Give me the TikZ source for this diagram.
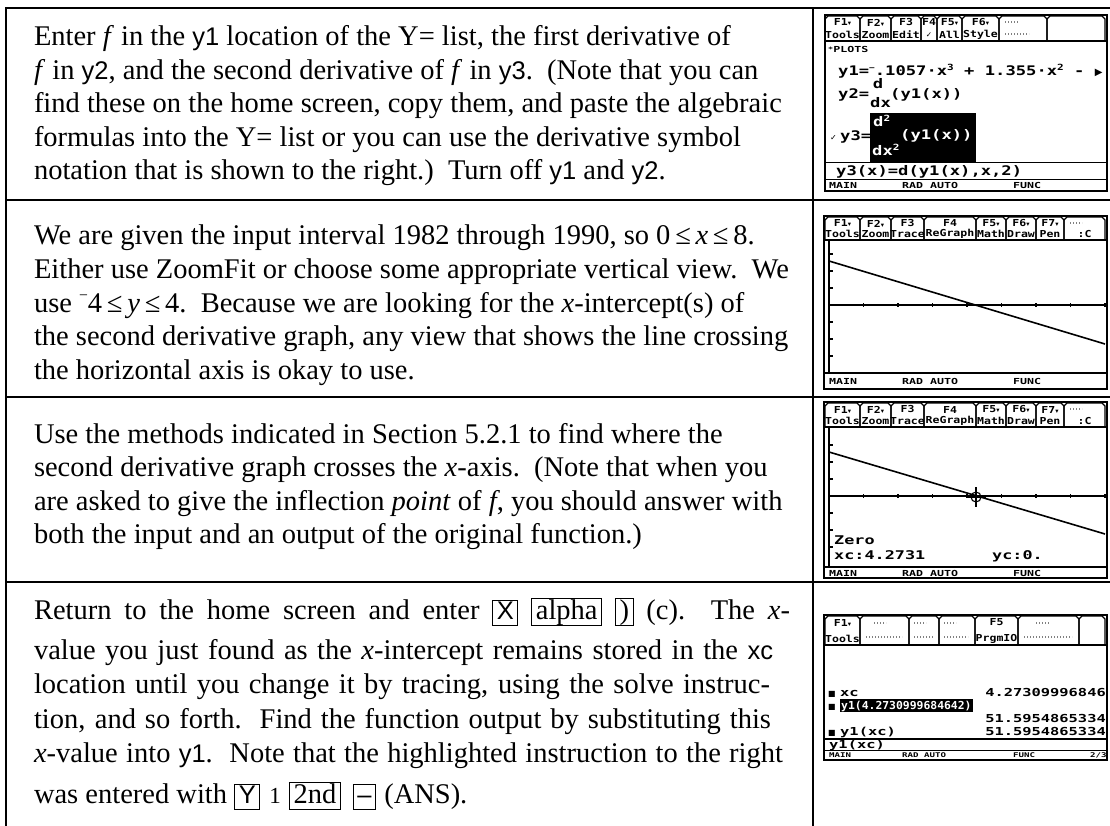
\documentclass[tikz,border=0pt]{standalone}
\usepackage{fontspec}
\setmainfont{Liberation Serif}
\newfontfamily\sfy{Liberation Sans}
\newfontfamily\calcf[FakeStretch=1.3]{DejaVu Sans Mono}
\newfontfamily\calcg[FakeStretch=1.4]{DejaVu Sans Mono}
\newfontfamily\calct[FakeStretch=1.2]{DejaVu Sans Mono}
\newfontfamily\symf{DejaVu Sans}
\newcommand\sy[1]{{\sfy\fontsize{25.5}{30}\selectfont #1}}
\newcommand\keybox[1]{{\setlength\fboxsep{0pt}\setlength\fboxrule{1.1pt}\fbox{\hspace{3.5pt}\rule[-0.2em]{0pt}{0.84em}#1\hspace{3.5pt}}}}
\newcommand\negsup{\raisebox{0.42em}{\scalebox{0.55}{−}}}
\newcommand\dn{{\symf\fontsize{6.5}{6.5}\selectfont ▾}}
\newcommand\csup[1]{\raisebox{0.45em}{\fontsize{8.5}{8.5}\selectfont #1}}
\newcommand\cN{\calcf\bfseries\fontsize{13.2}{14}\selectfont}
\newcommand\cM{\calcg\bfseries\fontsize{12}{13}\selectfont}
\newcommand\cH{\calcg\bfseries\fontsize{11}{12}\selectfont}
\newcommand\cS{\calcg\bfseries\fontsize{8.3}{9}\selectfont}
\newcommand\cT{\calct\bfseries\fontsize{9.6}{10}\selectfont}
\newcommand\tabc[6]{%
  \draw[tabl] (#1,#4) -- (#1,#3+3) -- (#1+3,#3) -- (#2-3,#3) -- (#2,#3+3) -- (#2,#4);
  \node[tabt] (tab-#1-#3-a) at ({(#1+#2)/2},#3+6.5) {#5};
  \node[tabt] (tab-#1-#3-b) at ({(#1+#2)/2},#4-6) {#6};
}
\newcommand\garb[3]{\draw[garb] (#1,#2) -- ++(#3,0);}
\usetikzlibrary{calc}
\begin{document}
\begin{tikzpicture}[x=1pt,y=-1pt,
  grid/.style={line width=2.3pt, line cap=rect},
  txt/.style={anchor=base west, inner sep=0pt, outer sep=0pt, font=\fontsize{28.5}{33}\selectfont},
  scr/.style={line width=1.6pt},
  tabl/.style={line width=1.2pt},
  tabt/.style={inner sep=0pt, font=\cT},
  ct/.style={anchor=base west, inner sep=0pt},
  cr/.style={anchor=base east, inner sep=0pt},
  sepl/.style={line width=1.3pt},
  garb/.style={gray, line width=1.4pt, dash pattern=on 1.4pt off 1.6pt},
  axisl/.style={line width=1.1pt},
  graphl/.style={line width=1.6pt}]
\useasboundingbox (0,0) rectangle (1110,826);
\fill[white] (0,0) rectangle (1110,826);
% table
\draw[grid] (6,826) -- (6,8) -- (1110,8);
\draw[grid] (813,8) -- (813,826);
\foreach \y in {200,397,582} \draw[grid] (6,\y) -- (1110,\y);
% row 1 text
\node[txt] (r1a) at (34,46) {Enter \textit{f} in the \sy{y1} location of the Y= list, the first derivative of};
\node[txt] (r1b) at (34,79.5) {\textit{f} in \sy{y2}, and the second derivative of \textit{f} in \sy{y3}.\ \ (Note that you can};
\node[txt] (r1c) at (34,113) {find these on the home screen, copy them, and paste the algebraic};
\node[txt] (r1d) at (34,146.5) {formulas into the Y= list or you can use the derivative symbol};
\node[txt] (r1e) at (34,180) {notation that is shown to the right.)\ \ Turn off \sy{y1} and \sy{y2}.};
% row 2 text
\node[txt] (r2a) at (34,245) {We are given the input interval 1982 through 1990, so 0\,≤\,\textit{x}\,≤\,8.};
\node[txt] (r2b) at (34,278.5) {Either use ZoomFit or choose some appropriate vertical view.\ \ We};
\node[txt] (r2c) at (34,312) {use \negsup4\,≤\,\textit{y}\,≤\,4.\ \ Because we are looking for the \textit{x}-intercept(s) of};
\node[txt] (r2d) at (34,345.5) {the second derivative graph, any view that shows the line crossing};
\node[txt] (r2e) at (34,379) {the horizontal axis is okay to use.};
% row 3 text
\node[txt] (r3a) at (34,443) {Use the methods indicated in Section 5.2.1 to find where the};
\node[txt] (r3b) at (34,476.5) {second derivative graph crosses the \textit{x}-axis.\ \ (Note that when you};
\node[txt] (r3c) at (34,510) {are asked to give the inflection \textit{point} of \textit{f}, you should answer with};
\node[txt] (r3d) at (34,543.5) {both the input and an output of the original function.)};
% row 4 text
\node[txt] (r4a) at (34,619) {\makebox[756pt][s]{Return to the home screen and enter \keybox{\sy{X}} \keybox{alpha} \keybox{)} (c).\ \ The \textit{x}-}};
\node[txt] (r4b) at (34,659) {\makebox[739pt][s]{value you just found as the \textit{x}-intercept remains stored in the \sy{xc}}};
\node[txt] (r4c) at (34,693.5) {\makebox[736pt][s]{location until you change it by tracing, using the solve instruc-}};
\node[txt] (r4d) at (34,728) {\makebox[737pt][s]{tion, and so forth.\ \ Find the function output by substituting this}};
\node[txt] (r4e) at (34,762.5) {\makebox[749pt][s]{\textit{x}-value into \sy{y1}.\ \ Note that the highlighted instruction to the right}};
\node[txt] (r4f) at (34,803) {was entered with \keybox{\sy{Y}}\hspace{9pt}{\fontsize{23}{26}\selectfont 1}\hspace{8pt}\keybox{2nd}\hspace{12pt}\keybox{\sy{–}}\hspace{8pt}(ANS).};

% ================= screen 1 (Y= editor)
\draw[scr] (825,15) rectangle (1107,191);
\tabc{825}{860}{16}{41}{F1\dn}{Tools}
\tabc{860}{891}{16}{41}{F2\dn}{Zoom}
\tabc{891}{921}{16}{41}{F3}{Edit}
\tabc{921}{937}{16}{41}{F4}{{\symf\fontsize{7.5}{7.5}\selectfont ✓}}
\tabc{937}{962}{16}{41}{F5\dn}{All}
\tabc{962}{999}{16}{41}{F6\dn}{Style}
\tabc{999}{1047}{16}{41}{}{}
\tabc{1047}{1105}{16}{41}{}{}
\garb{1005}{22}{14}\garb{1005}{34}{24}
\draw[sepl] (825,41) -- (1107,41);
\node[ct] (s1plots) at (828,53) {\cS\raisebox{1pt}{\fontsize{6}{6}\selectfont *}PLOTS};
\node[ct] (s1y1) at (838,76) {\cN y1=\negsup.1057·x\csup{3} + 1.355·x\csup{2} - {\symf\fontsize{10}{10}\selectfont ▶}};
\node[ct] (s1y2) at (838,99) {\cN y2=};
\node[inner sep=0pt] (s1d) at (878,84) {\cN d};
\node[ct] (s1dx) at (870,108) {\cN dx};
\node[ct] (s1y2b) at (890,99) {\cN (y1(x))};
\node[ct] (s1chk) at (830,141) {{\symf\fontsize{8}{8}\selectfont ✓}};
\node[ct] (s1y3) at (840,141) {\cN y3=};
\fill[black] (870,113) rectangle (976,162);
\node[ct, text=white] (s1d2) at (873,127) {\cN d\csup{2}};
\node[ct, text=white] (s1dx2) at (872,156) {\cN dx\csup{2}};
\node[ct, text=white] (s1y3b) at (900,140) {\cN (y1(x))};
\draw[sepl] (825,162.5) -- (1107,162.5);
\node[ct] (s1entry) at (836,176) {\cN y3(x)=d(y1(x),x,2)};
\draw[sepl] (825,179.5) -- (1107,179.5);
\node[ct] (s1st1) at (829,189) {\cS MAIN};
\node[ct] (s1st2) at (902,189) {\cS RAD AUTO};
\node[ct] (s1st3) at (1013,189) {\cS FUNC};

% ================= screen 2 (graph)
\draw[scr] (824,216) rectangle (1107,389);
\tabc{825}{860}{217}{240}{F1\dn}{Tools}
\tabc{860}{891}{217}{240}{F2\dn}{Zoom}
\tabc{891}{924}{217}{240}{F3}{Trace}
\tabc{924}{976}{217}{240}{F4}{ReGraph}
\tabc{976}{1006}{217}{240}{F5\dn}{Math}
\tabc{1006}{1036}{217}{240}{F6\dn}{Draw}
\tabc{1036}{1064}{217}{240}{F7\dn}{Pen}
\tabc{1064}{1105}{217}{240}{}{:C}
\garb{1070}{223}{12}
\draw[sepl] (824,240) -- (1107,240);
\draw[axisl] (829,240) -- (829,373);
\draw[axisl] (829,305) -- (1107,305);
\foreach \i in {1,...,8} \draw[axisl] ({829+34.5*\i},303) -- ++(0,4);
\foreach \j in {-3,-2,-1,1,2,3} \draw[axisl] (829,{305+17*\j}) -- ++(4,0);
\draw[graphl] (829,261) -- (1105,344);
\draw[sepl] (824,373) -- (1107,373);
\node[ct] (s2st1) at (829,384) {\cS MAIN};
\node[ct] (s2st2) at (902,384) {\cS RAD AUTO};
\node[ct] (s2st3) at (1013,384) {\cS FUNC};

% ================= screen 3 (graph with zero)
\draw[scr] (824,402) rectangle (1107,578);
\tabc{825}{860}{403}{427}{F1\dn}{Tools}
\tabc{860}{891}{403}{427}{F2\dn}{Zoom}
\tabc{891}{924}{403}{427}{F3}{Trace}
\tabc{924}{976}{403}{427}{F4}{ReGraph}
\tabc{976}{1006}{403}{427}{F5\dn}{Math}
\tabc{1006}{1036}{403}{427}{F6\dn}{Draw}
\tabc{1036}{1064}{403}{427}{F7\dn}{Pen}
\tabc{1064}{1105}{403}{427}{}{:C}
\garb{1070}{409}{12}
\draw[sepl] (824,427) -- (1107,427);
\draw[axisl] (829,427) -- (829,567);
\draw[axisl] (829,496) -- (1107,496);
\foreach \i in {1,...,8} \draw[axisl] ({829+34.5*\i},494) -- ++(0,4);
\foreach \j in {-3,-2,-1,1,2,3} \draw[axisl] (829,{496+17*\j}) -- ++(4,0);
\draw[graphl] (829,452) -- (1105,534);
\node[circle, draw, line width=1.1pt, minimum size=10pt, inner sep=0pt] (cur) at (976,497) {};
\draw[axisl] (976,487) -- (976,507);
\draw[axisl] (966,497) -- (986,497);
\node[ct] (s3zero) at (834,544) {\cM Zero};
\node[ct] (s3xc) at (834,559) {\cM xc:4.2731};
\node[ct] (s3yc) at (992,559) {\cM yc:0.};
\draw[sepl] (824,567) -- (1107,567);
\node[ct] (s3st1) at (829,576.5) {\cS MAIN};
\node[ct] (s3st2) at (902,576.5) {\cS RAD AUTO};
\node[ct] (s3st3) at (1013,576.5) {\cS FUNC};

% ================= screen 4 (home)
\draw[scr] (824,615) rectangle (1107,760);
\tabc{825}{860}{616}{645}{F1\dn}{Tools}
\tabc{860}{909}{616}{645}{}{}
\tabc{909}{939}{616}{645}{}{}
\tabc{939}{975}{616}{645}{}{}
\tabc{975}{1018}{616}{645}{F5}{PrgmIO}
\tabc{1018}{1079}{616}{645}{}{}
\tabc{1079}{1105}{616}{645}{}{}
\garb{874}{623}{12}\garb{866}{637}{36}
\garb{914}{623}{12}\garb{914}{637}{20}
\garb{944}{623}{12}\garb{944}{637}{24}
\garb{1036}{623}{14}\garb{1024}{637}{48}
\draw[sepl] (824,645) -- (1107,645);
\node[ct] (s4b1) at (828,696) {{\symf\fontsize{8}{8}\selectfont ■}};
\node[ct] (s4xc) at (840,696) {\cH xc};
\node[cr] (s4v1) at (1106,696) {\cH 4.27309996846};
\node[ct] (s4b2) at (828,709.5) {{\symf\fontsize{8}{8}\selectfont ■}};
\fill[black] (840,699) rectangle (973,712);
\node[ct, text=white] (s4hl) at (841,709.5) {\scalebox{0.74}[1]{\cH y1(4.2730999684642)}};
\node[cr] (s4v2) at (1106,722.5) {\cH 51.5954865334};
\node[ct] (s4b3) at (828,735.5) {{\symf\fontsize{8}{8}\selectfont ■}};
\node[ct] (s4y1) at (840,735.5) {\cH y1(xc)};
\node[cr] (s4v3) at (1106,735.5) {\cH 51.5954865334};
\draw[sepl] (824,739) -- (1107,739);
\node[ct] (s4entry) at (829,748.5) {\cH y1(xc)};
\draw[sepl] (824,750.5) -- (1107,750.5);
\node[ct] (s4st1) at (829,757.5) {\calcg\bfseries\fontsize{6.5}{7}\selectfont MAIN};
\node[ct] (s4st2) at (902,757.5) {\calcg\bfseries\fontsize{6.5}{7}\selectfont RAD AUTO};
\node[ct] (s4st3) at (1013,757.5) {\calcg\bfseries\fontsize{6.5}{7}\selectfont FUNC};
\node[ct] (s4st4) at (1090,757.5) {\calcg\bfseries\fontsize{6.5}{7}\selectfont 2/3};
\end{tikzpicture}
\end{document}
